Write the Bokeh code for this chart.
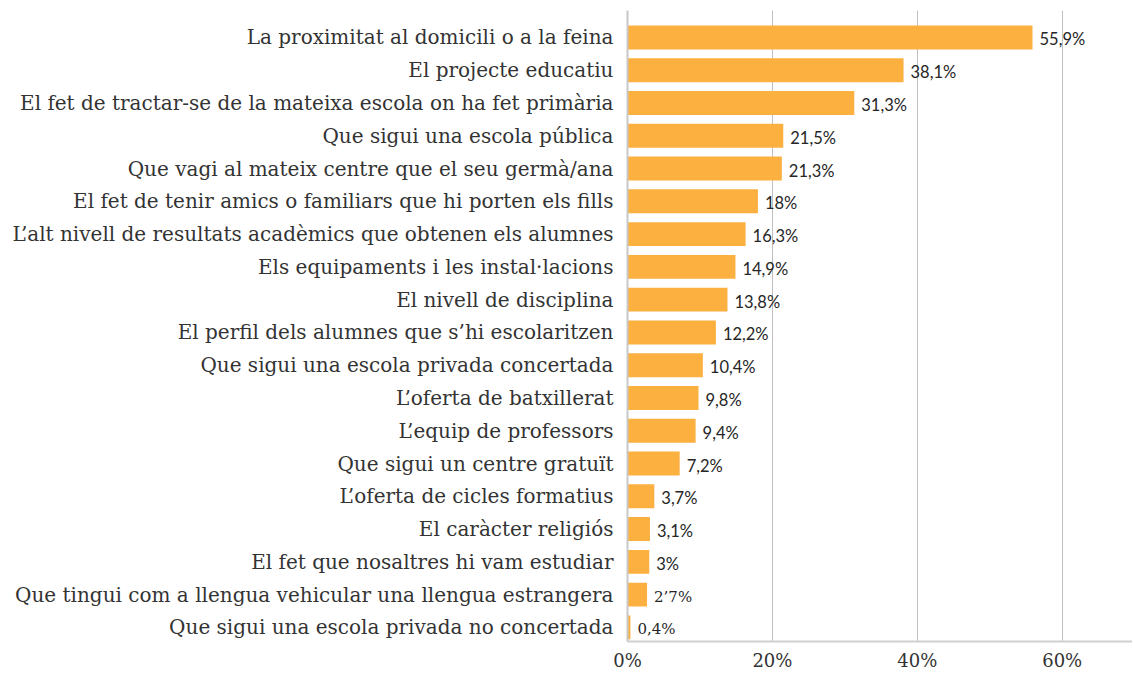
from bokeh.plotting import figure
from bokeh.models import ColumnDataSource, Range1d, FixedTicker
from bokeh.embed import file_html
from bokeh.resources import INLINE

categories = [
    "La proximitat al domicili o a la feina",
    "El projecte educatiu",
    "El fet de tractar-se de la mateixa escola on ha fet primària",
    "Que sigui una escola pública",
    "Que vagi al mateix centre que el seu germà/ana",
    "El fet de tenir amics o familiars que hi porten els fills",
    "L’alt nivell de resultats acadèmics que obtenen els alumnes",
    "Els equipaments i les instal·lacions",
    "El nivell de disciplina",
    "El perfil dels alumnes que s’hi escolaritzen",
    "Que sigui una escola privada concertada",
    "L’oferta de batxillerat",
    "L’equip de professors",
    "Que sigui un centre gratuït",
    "L’oferta de cicles formatius",
    "El caràcter religiós",
    "El fet que nosaltres hi vam estudiar",
    "Que tingui com a llengua vehicular una llengua estrangera",
    "Que sigui una escola privada no concertada",
]
values = [55.9, 38.1, 31.3, 21.5, 21.3, 18.0, 16.3, 14.9, 13.8, 12.2,
          10.4, 9.8, 9.4, 7.2, 3.7, 3.1, 3.0, 2.7, 0.4]
value_labels = ["55,9%", "38,1%", "31,3%", "21,5%", "21,3%", "18%", "16,3%",
                "14,9%", "13,8%", "12,2%", "10,4%", "9,8%", "9,4%", "7,2%",
                "3,7%", "3,1%", "3%", "2’7%", "0,4%"]
x_ticks = [0, 20, 40, 60]
x_tick_labels = ["0%", "20%", "40%", "60%"]

SERIF = "DejaVu Serif"
SANS = "Lato"
serif_value_labels = {"2’7%", "0,4%"}

pos = list(range(len(categories)))
label_fonts = [SERIF if t in serif_value_labels else SANS for t in value_labels]
label_sizes = ["15px" if t in serif_value_labels else "16.5px" for t in value_labels]

src = ColumnDataSource(dict(y=pos, v=values, lab=value_labels,
                            font=label_fonts, size=label_sizes))

W, H = 1132, 673
p = figure(width=W, height=H, output_backend="svg", toolbar_location=None,
           x_range=Range1d(0, (W - 627) / 7.245), y_range=Range1d(18.43, -0.822),
           min_border_left=627, min_border_right=0, min_border_top=10,
           min_border_bottom=H - 642)
p.outline_line_color = None
p.background_fill_color = "white"

p.hbar(y="y", right="v", left=0, height=0.73, source=src,
       fill_color="#FBB040", line_color=None)

p.text(x="v", y="y", text="lab", source=src, x_offset=7, y_offset=2,
       text_baseline="middle", text_align="left", text_font="font",
       text_font_size="size", text_color="#262626")

# x axis
p.xaxis.ticker = FixedTicker(ticks=x_ticks)
p.xaxis.major_label_overrides = {t: l for t, l in zip(x_ticks, x_tick_labels)}
p.xaxis.major_label_text_font = SERIF
p.xaxis.major_label_text_font_size = "18px"
p.xaxis.major_label_text_color = "#333333"
p.xaxis.major_tick_line_color = None
p.xaxis.minor_tick_line_color = None
p.xaxis.major_tick_out = 0
p.xaxis.major_label_standoff = 8
p.xaxis.axis_line_color = "#D0D0D0"
p.xaxis.axis_line_width = 2

# y axis
p.yaxis.ticker = FixedTicker(ticks=pos)
p.yaxis.major_label_overrides = {i: c for i, c in zip(pos, categories)}
p.yaxis.major_label_text_font = SERIF
p.yaxis.major_label_text_font_size = "20px"
p.yaxis.major_label_text_color = "#333333"
p.yaxis.major_tick_line_color = None
p.yaxis.minor_tick_line_color = None
p.yaxis.major_tick_out = 0
p.yaxis.major_label_standoff = 14
p.yaxis.axis_line_color = "#C8C8C8"
p.yaxis.axis_line_width = 2

p.xgrid.ticker = FixedTicker(ticks=[20, 40, 60])
p.xgrid.grid_line_color = "#BFBFBF"
p.xgrid.grid_line_width = 1
p.ygrid.grid_line_color = None

open("out.html", "w").write(file_html(p, INLINE))
